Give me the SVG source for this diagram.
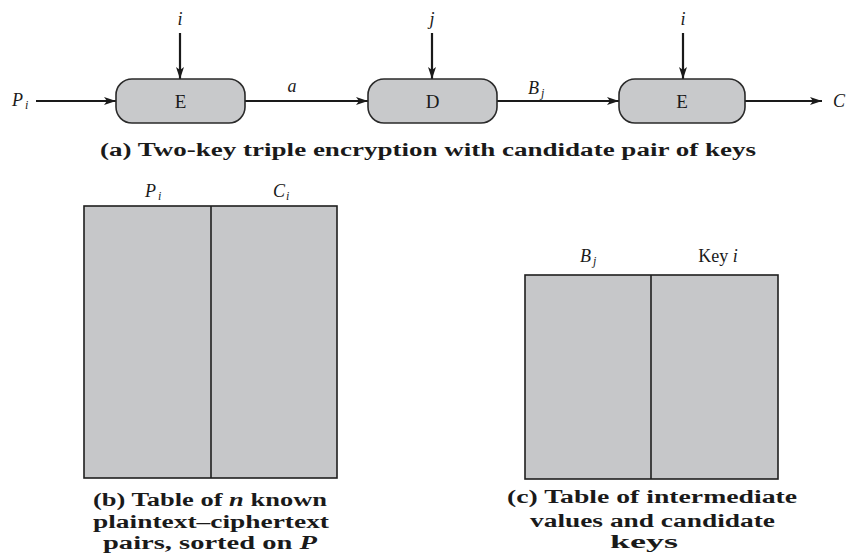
<svg xmlns="http://www.w3.org/2000/svg" width="850" height="554" viewBox="0 0 850 554">
<defs>
<marker id="ah" markerWidth="12" markerHeight="8" refX="12" refY="4" orient="auto" markerUnits="userSpaceOnUse">
<path d="M0,0 L12,4 L0,8 L3,4 Z" fill="#1a1a1a"/>
</marker>
<style>
.blk{fill:#c8c9cb;stroke:#2a2a2a;stroke-width:1.6}
.tbl{fill:#c6c7c9;stroke:#1f1f1f;stroke-width:1.6}
.arr{stroke:#1a1a1a;stroke-width:2.2;fill:none;marker-end:url(#ah)}
.lbl{font-family:"Liberation Serif",serif;font-size:19px;fill:#1a1a1a}
.key{font-family:"Liberation Serif",serif;font-size:18px;fill:#1a1a1a}
.it{font-family:"Liberation Serif",serif;font-style:italic;font-size:18px;fill:#1a1a1a}
.sub{font-family:"Liberation Serif",serif;font-style:italic;font-size:12px;fill:#1a1a1a}
.cap{font-family:"Liberation Serif",serif;font-weight:bold;font-size:18px;fill:#1a1a1a}
</style>
</defs>
<rect width="850" height="554" fill="#ffffff"/>
<g id="connectors">
<line class="arr" x1="36" y1="101" x2="116" y2="101"/>
<line class="arr" x1="180" y1="33" x2="180" y2="79"/>
<line class="arr" x1="245" y1="101" x2="368" y2="101"/>
<line class="arr" x1="432" y1="33" x2="432" y2="79"/>
<line class="arr" x1="497" y1="101" x2="619" y2="101"/>
<line class="arr" x1="683" y1="33" x2="683" y2="79"/>
<line class="arr" x1="745" y1="101" x2="822" y2="101"/>
</g>
<g id="label-Pi"><text class="it" x="12" y="106">P</text><text class="sub" x="25" y="109">i</text></g>
<g id="label-i1"><text class="it" x="180" y="25" text-anchor="middle">i</text></g>
<g id="label-j"><text class="it" x="432" y="25" text-anchor="middle">j</text></g>
<g id="label-i2"><text class="it" x="683" y="25" text-anchor="middle">i</text></g>
<g id="label-a"><text class="it" x="292" y="92" text-anchor="middle">a</text></g>
<g id="label-Bj"><text class="it" x="528" y="94">B</text><text class="sub" x="541" y="97">j</text></g>
<g id="label-C"><text class="it" x="833" y="107">C</text></g>
<g id="node-E1"><rect class="blk" x="116" y="79" width="129" height="44" rx="16"/><text class="lbl" x="180.5" y="108" text-anchor="middle">E</text></g>
<g id="node-D"><rect class="blk" x="368" y="79" width="129" height="44" rx="16"/><text class="lbl" x="432.5" y="108" text-anchor="middle">D</text></g>
<g id="node-E2"><rect class="blk" x="619" y="79" width="126" height="44" rx="16"/><text class="lbl" x="682" y="108" text-anchor="middle">E</text></g>
<g id="caption-a"><text class="cap" x="100" y="156" textLength="656" lengthAdjust="spacingAndGlyphs">(a) Two-key triple encryption with candidate pair of keys</text></g>
<g id="table-b">
<rect class="tbl" x="84" y="206" width="253" height="272"/>
<line x1="211" y1="206" x2="211" y2="478" stroke="#1f1f1f" stroke-width="1.6"/>
<text class="it" x="145" y="197">P</text><text class="sub" x="158" y="200">i</text>
<text class="it" x="273" y="197">C</text><text class="sub" x="286" y="200">i</text>
</g>
<g id="caption-b">
<text class="cap" x="93" y="506" textLength="234" lengthAdjust="spacingAndGlyphs">(b) Table of <tspan font-style="italic">n</tspan> known</text>
<text class="cap" x="93" y="528" textLength="236" lengthAdjust="spacingAndGlyphs">plaintext–ciphertext</text>
<text class="cap" x="103" y="549" textLength="214" lengthAdjust="spacingAndGlyphs">pairs, sorted on <tspan font-style="italic">P</tspan></text>
</g>
<g id="table-c">
<rect class="tbl" x="525" y="275" width="253" height="204"/>
<line x1="651" y1="275" x2="651" y2="479" stroke="#1f1f1f" stroke-width="1.6"/>
<text class="it" x="580" y="262">B</text><text class="sub" x="593" y="265">j</text>
<text class="key" x="718" y="262" text-anchor="middle">Key <tspan font-style="italic">i</tspan></text>
</g>
<g id="caption-c">
<text class="cap" x="507" y="503" textLength="290" lengthAdjust="spacingAndGlyphs">(c) Table of intermediate</text>
<text class="cap" x="530" y="527" textLength="245" lengthAdjust="spacingAndGlyphs">values and candidate</text>
<text class="cap" x="610" y="548" textLength="68" lengthAdjust="spacingAndGlyphs">keys</text>
</g>
</svg>
